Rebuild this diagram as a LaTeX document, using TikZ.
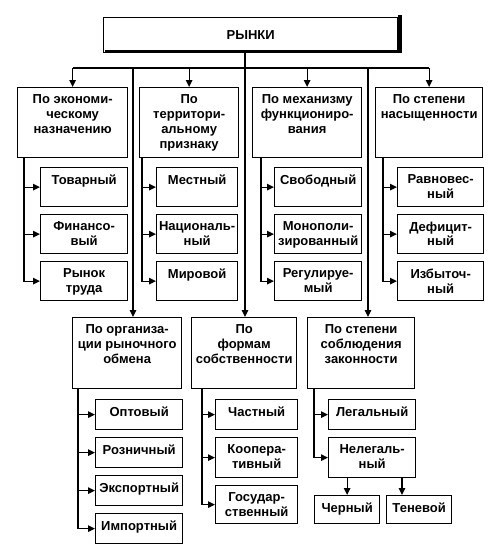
\documentclass[tikz,border=0pt]{standalone}
\usepackage{fontspec}
\setmainfont{Liberation Sans}
\usetikzlibrary{arrows.meta}

\tikzset{
  klass/.style={draw, line width=1.3pt, anchor=north west, inner sep=0pt},
  nadpis/.style={anchor=north, yshift=-7.5pt, align=center, inner sep=0pt},
  liniya/.style={line width=1.3pt},
  strelka/.style={line width=1.3pt, -{Triangle[length=7pt,width=6.5pt]}},
}

\begin{document}
\begin{tikzpicture}[x=1pt,y=1pt,yscale=-1,xscale=1,font=\bfseries\fontsize{13}{14.8}\selectfont]
\useasboundingbox (0,0) rectangle (492,544);

% Top Node
\node[klass, fill=white, minimum width=294pt, minimum height=35pt] (rynki) at (103,17) {РЫНКИ};
% Shadow of top node
\fill ([xshift=2pt]rynki.south west) rectangle ([xshift=3.5pt,yshift=-3.5pt]rynki.south east);
\fill ([yshift=-2pt]rynki.north east) rectangle ([xshift=3.5pt,yshift=-3.5pt]rynki.south east);

% Classes, upper row
\node[klass, minimum width=110pt, minimum height=70pt, label={[nadpis]north:{По экономи-\\ческому\\назначению}}] (cat1) at (17,87) {};
\node[klass, minimum width=99pt, minimum height=70pt, label={[nadpis]north:{По\\территори-\\альному\\признаку}}] (cat2) at (139,87) {};
\node[klass, minimum width=109pt, minimum height=70pt, label={[nadpis]north:{По механизму\\функциониро-\\вания}}] (cat3) at (252,87) {};
\node[klass, minimum width=107pt, minimum height=70pt, label={[nadpis]north:{По степени\\насыщенности}}] (cat4) at (375,87) {};

% Classes, lower row
\node[klass, minimum width=109pt, minimum height=71pt, label={[nadpis]north:{По организа-\\ции рыночного\\обмена}}] (cat5) at (72,317) {};
\node[klass, minimum width=105pt, minimum height=71pt, label={[nadpis]north:{По\\формам\\собственности}}] (cat6) at (191,317) {};
\node[klass, minimum width=107pt, minimum height=71pt, label={[nadpis]north:{По степени\\соблюдения\\законности}}] (cat7) at (307,317) {};

% Items, column 1
\node[klass, minimum width=87pt, minimum height=39pt, label={[nadpis]north:{Товарный}}] (tovar) at (40,167) {};
\node[klass, minimum width=87pt, minimum height=39pt, label={[nadpis]north:{Финансо-\\вый}}] (finans) at (40,214) {};
\node[klass, minimum width=87pt, minimum height=39pt, label={[nadpis]north:{Рынок\\труда}}] (trud) at (40,261) {};
% Items, column 2
\node[klass, minimum width=81pt, minimum height=39pt, label={[nadpis]north:{Местный}}] (mest) at (156,167) {};
\node[klass, minimum width=81pt, minimum height=39pt, label={[nadpis]north:{Националь-\\ный}}] (nacion) at (156,214) {};
\node[klass, minimum width=81pt, minimum height=39pt, label={[nadpis]north:{Мировой}}] (mir) at (156,261) {};
% Items, column 3
\node[klass, minimum width=87pt, minimum height=39pt, label={[nadpis]north:{Свободный}}] (svob) at (274,167) {};
\node[klass, minimum width=87pt, minimum height=39pt, label={[nadpis]north:{Монополи-\\зированный}}] (monop) at (274,214) {};
\node[klass, minimum width=87pt, minimum height=39pt, label={[nadpis]north:{Регулируе-\\мый}}] (regul) at (274,261) {};
% Items, column 4
\node[klass, minimum width=86pt, minimum height=39pt, label={[nadpis]north:{Равновес-\\ный}}] (ravn) at (397,167) {};
\node[klass, minimum width=86pt, minimum height=39pt, label={[nadpis]north:{Дефицит-\\ный}}] (defic) at (397,214) {};
\node[klass, minimum width=86pt, minimum height=39pt, label={[nadpis]north:{Избыточ-\\ный}}] (izbyt) at (397,261) {};

% Items, column 5
\node[klass, minimum width=87pt, minimum height=30pt, label={[nadpis]north:{Оптовый}}] (opt) at (95,399) {};
\node[klass, minimum width=87pt, minimum height=30pt, label={[nadpis]north:{Розничный}}] (rozn) at (95,437) {};
\node[klass, minimum width=87pt, minimum height=30pt, label={[nadpis]north:{Экспортный}}] (eksp) at (95,475) {};
\node[klass, minimum width=87pt, minimum height=30pt, label={[nadpis]north:{Импортный}}] (imp) at (95,513) {};
% Items, column 6
\node[klass, minimum width=82pt, minimum height=30pt, label={[nadpis]north:{Частный}}] (chast) at (215,399) {};
\node[klass, minimum width=82pt, minimum height=40pt, label={[nadpis]north:{Коопера-\\тивный}}] (koop) at (215,437) {};
\node[klass, minimum width=82pt, minimum height=38pt, label={[nadpis]north:{Государ-\\ственный}}] (gos) at (215,485) {};
% Items, column 7
\node[klass, minimum width=87pt, minimum height=30pt, label={[nadpis]north:{Легальный}}] (legal) at (328,399) {};
\node[klass, minimum width=87pt, minimum height=40pt, label={[nadpis]north:{Нелегаль-\\ный}}] (nelegal) at (328,437) {};
\node[klass, minimum width=65pt, minimum height=28pt, label={[nadpis]north:{Черный}}] (cherny) at (314,495) {};
\node[klass, minimum width=65pt, minimum height=28pt, label={[nadpis]north:{Теневой}}] (tenev) at (386,495) {};

% Bus and trunk
\coordinate (sh) at (245,68);
\coordinate (v5) at (133,68);
\coordinate (v7) at (368,68);
\draw[liniya] (cat1.north |- sh) -- (cat4.north |- sh);
\draw[strelka] (rynki.south -| sh) -- (sh |- cat6.north);
\draw[strelka] (cat1.north |- sh) -- (cat1.north);
\draw[strelka] (cat2.north |- sh) -- (cat2.north);
\draw[strelka] (cat3.north |- sh) -- (cat3.north);
\draw[strelka] (cat4.north |- sh) -- (cat4.north);
\draw[strelka] (v5) -- (v5 |- cat5.north);
\draw[strelka] (v7) -- (v7 |- cat7.north);

% Branches
\coordinate (b1) at (24,157);
\coordinate (b2) at (142,157);
\coordinate (b3) at (261,157);
\coordinate (b4) at (383,157);
\coordinate (b5) at (78,388);
\coordinate (b6) at (202,388);
\coordinate (b7) at (314,388);
\foreach \a/\t in {b1/tovar,b1/finans,b1/trud,b2/mest,b2/nacion,b2/mir,b3/svob,b3/monop,b3/regul,b4/ravn,b4/defic,b4/izbyt,b5/opt,b5/rozn,b5/eksp,b5/imp,b6/chast,b6/koop,b6/gos,b7/legal,b7/nelegal}
  \draw[strelka] (\a) |- (\t.west);

% Illegal split
\coordinate (b8) at (402,477);
\draw[strelka] (nelegal.south -| cherny.north) -- (cherny.north);
\draw[strelka] (b8) -- (b8 |- tenev.north);

\end{tikzpicture}
\end{document}
